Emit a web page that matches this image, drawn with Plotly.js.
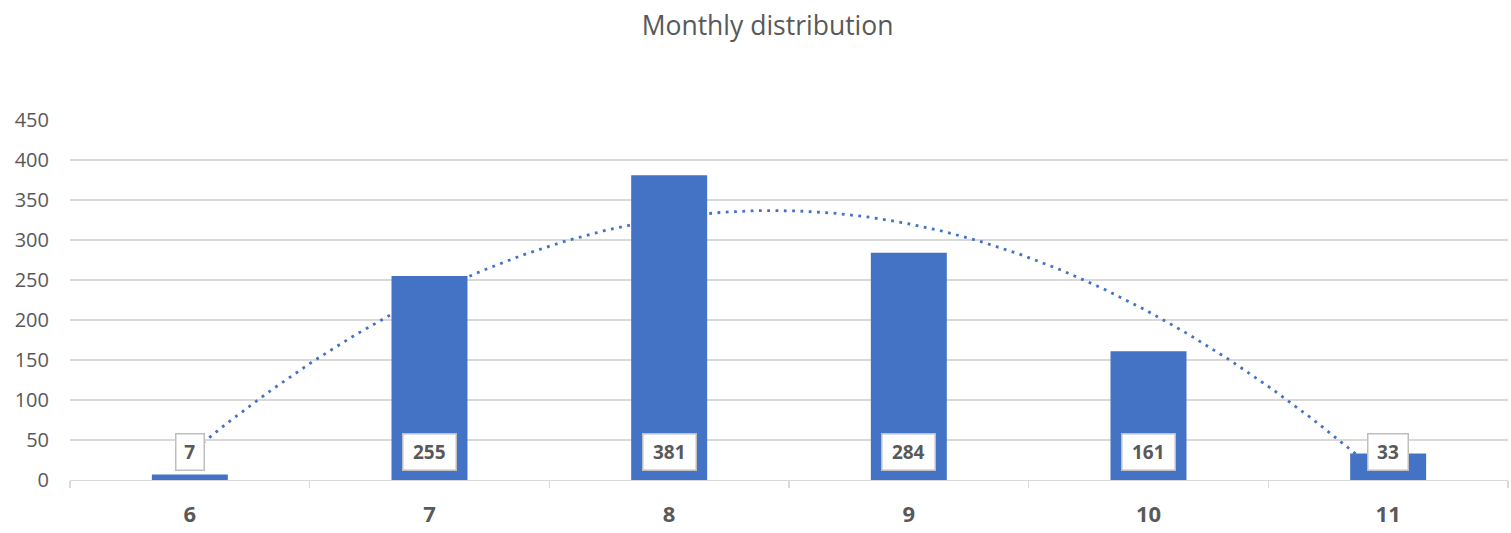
<!DOCTYPE html>
<html>
<head>
<meta charset="utf-8">
<script src="https://cdn.plot.ly/plotly-3.0.1.min.js"></script>
<style>html,body{margin:0;padding:0;background:#fff;}#chart{width:1511px;height:533px;}</style>
</head>
<body>
<div id="chart"></div>
<script>
// Data
const months = [6, 7, 8, 9, 10, 11];
const counts = [7, 255, 381, 284, 161, 33];
const monthLabels = ["6", "7", "8", "9", "10", "11"];
const chartTitle = "Monthly distribution";

// Order-2 polynomial trendline (least squares), as the spreadsheet draws it
function polyFit2(xs, ys) {
  const n = xs.length;
  let s = [0, 0, 0, 0, 0], t = [0, 0, 0];
  for (let i = 0; i < n; i++) {
    let p = 1;
    for (let k = 0; k <= 4; k++) { s[k] += p; if (k <= 2) t[k] += p * ys[i]; p *= xs[i]; }
  }
  const A = [[s[0], s[1], s[2], t[0]], [s[1], s[2], s[3], t[1]], [s[2], s[3], s[4], t[2]]];
  for (let c = 0; c < 3; c++) {
    for (let r = c + 1; r < 3; r++) {
      const f = A[r][c] / A[c][c];
      for (let k = c; k < 4; k++) A[r][k] -= f * A[c][k];
    }
  }
  const coef = [0, 0, 0];
  for (let r = 2; r >= 0; r--) {
    let v = A[r][3];
    for (let k = r + 1; k < 3; k++) v -= A[r][k] * coef[k];
    coef[r] = v / A[r][r];
  }
  return coef;
}
const coef = polyFit2(months, counts);
const tx = [], ty = [];
const x0 = months[0], x1 = months[months.length - 1];
for (let i = 0; i <= 200; i++) {
  const x = x0 + (x1 - x0) * i / 200;
  tx.push(x);
  ty.push(coef[0] + coef[1] * x + coef[2] * x * x);
}

const blue = "#4472C4";
const grey = "#595959";
const font = "Open Sans, Liberation Sans, sans-serif";

const bars = {
  type: "bar", x: months, y: counts,
  marker: {color: blue}, hoverinfo: "x+y", showlegend: false
};
const trend = {
  type: "scatter", mode: "lines", x: tx, y: ty,
  line: {color: blue, width: 2.8, dash: "2.8px,5.5px"},
  hoverinfo: "skip", showlegend: false
};

const annotations = months.map((m, i) => ({
  x: m, y: 0, xref: "x", yref: "y",
  text: "<b>" + counts[i] + "</b>",
  showarrow: false, yanchor: "bottom", yshift: 9,
  font: {family: font, size: 19, color: grey},
  bgcolor: "#ffffff", bordercolor: "#bfbfbf", borderwidth: 1.5,
  borderpad: 4, width: 12.5 * String(counts[i]).length + 6, height: 27
}));

const boundaries = [5.5, 6.5, 7.5, 8.5, 9.5, 10.5, 11.5];

const layout = {
  width: 1511, height: 533,
  paper_bgcolor: "#ffffff", plot_bgcolor: "#ffffff",
  margin: {l: 70, r: 3, t: 120, b: 53},
  title: {text: chartTitle, x: 0.508, xref: "container", xanchor: "center", y: 0.951, yanchor: "middle",
          font: {family: font, size: 26.5, color: grey}},
  bargap: 0.683,
  showlegend: false,
  xaxis: {
    type: "linear", range: [5.5, 11.5],
    tickvals: months, ticktext: monthLabels.map(s => "<b>" + s + "</b>"),
    ticks: "", showgrid: false, zeroline: false,
    showline: true, linecolor: "#d9d9d9", linewidth: 1.3,
    tickfont: {family: font, size: 22, color: grey},
    ticklabelstandoff: 14,
    minor: {tickvals: boundaries, ticks: "outside", ticklen: 7, tickcolor: "#d9d9d9", tickwidth: 1.3, showgrid: false}
  },
  yaxis: {
    range: [0, 450], tickvals: [0, 50, 100, 150, 200, 250, 300, 350, 400, 450],
    showgrid: true, gridcolor: "#d9d9d9", gridwidth: 1.3,
    zeroline: false, showline: false, ticks: "",
    tickfont: {family: font, size: 20, color: grey},
    ticklabelstandoff: 20
  },
  annotations: annotations
};

Plotly.newPlot("chart", [bars, trend], layout, {displayModeBar: false, staticPlot: true});
</script>
</body>
</html>
